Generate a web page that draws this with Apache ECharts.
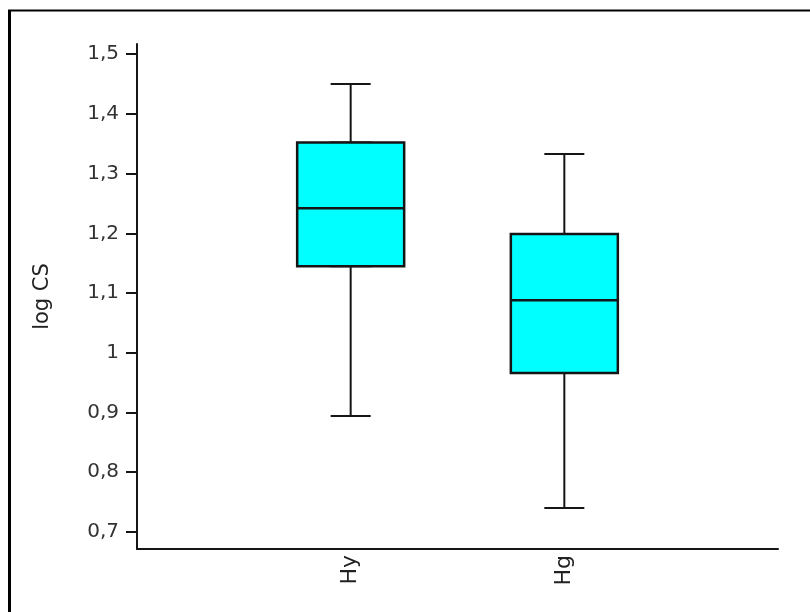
<!DOCTYPE html>
<html>
<head>
<meta charset="utf-8">
<title>log CS</title>
<script src="https://cdn.jsdelivr.net/npm/echarts@6/dist/echarts.min.js"></script>
<style>
  html, body { margin: 0; padding: 0; background: #ffffff; }
  #chart { width: 810px; height: 612px; }
</style>
</head>
<body>
<div id="chart"></div>
<script>
// Groups along the x axis (blank slots pad both ends of the axis)
const categories = ['', 'Hy', 'Hg', ''];
const groups = ['Hy', 'Hg'];

// Five-number summaries per group
const minValues    = [0.894, 0.740];
const q1Values     = [1.145, 0.966];
const medianValues = [1.242, 1.088];
const q3Values     = [1.352, 1.199];
const maxValues    = [1.450, 1.333];

// Y axis tick labels
const yTicks = [0.7, 0.8, 0.9, 1.0, 1.1, 1.2, 1.3, 1.4, 1.5];

// Whisker rows: full range min..max (narrow caps)
const whiskerSource = groups.map((g, i) =>
  [g, minValues[i], q1Values[i], medianValues[i], q3Values[i], maxValues[i]]);
// Box rows: only the interquartile box with median
const boxSource = groups.map((g, i) =>
  [g, q1Values[i], q1Values[i], medianValues[i], q3Values[i], q3Values[i]]);

const FONT = 'DejaVu Sans';
const INK = '#151515';

const chart = echarts.init(document.getElementById('chart'), null, { renderer: 'canvas' });

const xAxisBase = {
  type: 'category',
  data: categories,
  boundaryGap: false,
  gridIndex: 0
};

chart.setOption({
  animation: false,
  backgroundColor: '#ffffff',
  dataset: [
    { source: whiskerSource },
    { source: boxSource }
  ],
  grid: { left: 137, right: 32, top: 44, bottom: 63 },
  xAxis: [
    Object.assign({}, xAxisBase, {
      axisLine: { show: true, onZero: false, lineStyle: { color: INK, width: 2 } },
      axisTick: { show: false },
      axisLabel: {
        rotate: 90,
        margin: 6,
        color: '#222',
        fontFamily: FONT,
        fontSize: 22
      },
      splitLine: { show: false }
    }),
    Object.assign({}, xAxisBase, { show: false })
  ],
  yAxis: {
    type: 'value',
    min: 0.6715,
    max: 1.517,
    name: 'log CS',
    nameLocation: 'middle',
    nameGap: 84,
    nameTextStyle: { color: '#222', fontFamily: FONT, fontSize: 21 },
    axisLine: { show: true, lineStyle: { color: INK, width: 2 } },
    axisTick: {
      show: true,
      inside: false,
      length: 11,
      customValues: yTicks,
      lineStyle: { color: INK, width: 2 }
    },
    axisLabel: {
      customValues: yTicks,
      margin: 18,
      color: '#333',
      fontFamily: FONT,
      fontSize: 20,
      formatter: v => String(v).replace('.', ',')
    },
    splitLine: { show: false }
  },
  graphic: [
    {
      type: 'line',
      shape: { x1: 9.5, y1: 10, x2: 9.5, y2: 612 },
      style: { stroke: '#000', lineWidth: 3 },
      silent: true
    },
    {
      type: 'line',
      shape: { x1: 8, y1: 10.5, x2: 810, y2: 10.5 },
      style: { stroke: '#000', lineWidth: 2 },
      silent: true
    }
  ],
  series: [
    {
      // whiskers with short caps
      type: 'boxplot',
      datasetIndex: 0,
      xAxisIndex: 0,
      encode: { x: 0, y: [1, 2, 3, 4, 5] },
      boxWidth: [40, 40],
      itemStyle: { color: '#00ffff', borderColor: INK, borderWidth: 2 },
      emphasis: { disabled: true },
      silent: true
    },
    {
      // interquartile boxes with median line
      type: 'boxplot',
      datasetIndex: 1,
      xAxisIndex: 1,
      encode: { x: 0, y: [1, 2, 3, 4, 5] },
      boxWidth: [107, 107],
      itemStyle: { color: '#00ffff', borderColor: INK, borderWidth: 2.5 },
      emphasis: { disabled: true },
      silent: true,
      z: 3
    }
  ]
});
</script>
</body>
</html>
